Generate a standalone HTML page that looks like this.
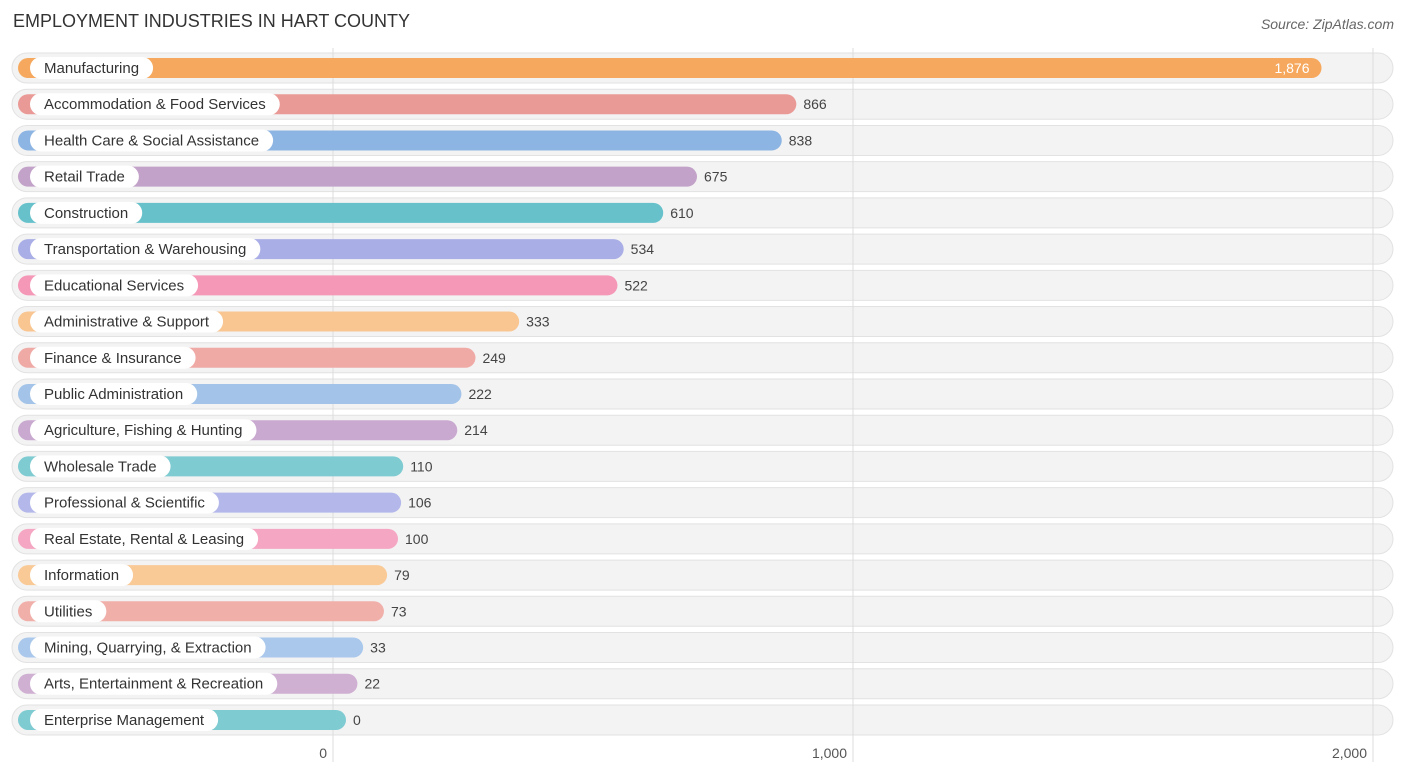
<!DOCTYPE html>
<html><head><meta charset="utf-8"><style>
body{margin:0;background:#fff;width:1406px;height:776px;overflow:hidden;font-family:"Liberation Sans",sans-serif;}
#title{position:absolute;left:13px;top:11px;font-size:18px;color:#333;}
#src{position:absolute;right:12px;top:16px;font-size:14px;color:#666;font-style:italic;}
svg{position:absolute;left:0;top:0;}
</style></head><body>
<div id="title">EMPLOYMENT INDUSTRIES IN HART COUNTY</div>
<div id="src">Source: ZipAtlas.com</div>
<svg id="chart" width="1406" height="776"></svg>
<script>
const categories=["Manufacturing","Accommodation & Food Services","Health Care & Social Assistance","Retail Trade","Construction","Transportation & Warehousing","Educational Services","Administrative & Support","Finance & Insurance","Public Administration","Agriculture, Fishing & Hunting","Wholesale Trade","Professional & Scientific","Real Estate, Rental & Leasing","Information","Utilities","Mining, Quarrying, & Extraction","Arts, Entertainment & Recreation","Enterprise Management"];
const values=[1876,866,838,675,610,534,522,333,249,222,214,110,106,100,79,73,33,22,0];
const tickValues=[0,1000,2000];
const tickLabels=["0","1,000","2,000"];
const colors=["#f6a95e","#ea9a96","#8db5e3","#c3a2c9","#66c1cb","#a9aee6","#f597b6","#f9c590","#f0aaa6","#a3c4e8","#c9a9d0","#7fcbd2","#b3b7ea","#f5a6c2","#f9c996","#f1afaa","#a9c8ec","#cfb0d3","#7fcbd2"];
const NS="http://www.w3.org/2000/svg";
const svg=document.getElementById('chart');
function x(v){return 333+v*0.52;}
function barEnd(v){return 346+v*0.52;}
function y(i){return 68+i*36.22;}
function mk(t,a,p){const e=document.createElementNS(NS,t);for(const k in a)e.setAttribute(k,a[k]);(p||svg).appendChild(e);return e;}
// row backgrounds
categories.forEach((c,i)=>{
  const r=mk('rect',{x:12,y:y(i)-15,width:1381,height:30,rx:15,fill:'#f3f3f3',stroke:'#e2e2e2'});
  
  
});
// gridlines & ticks
tickValues.forEach((t,i)=>{
  const l=mk('line',{x1:x(t),x2:x(t),y1:48,y2:762,stroke:'#dcdcdc','stroke-width':1});
  
  
  const tx=mk('text',{x:x(t)-6,y:758,'text-anchor':'end','font-size':14,fill:'#555'});
  tx.textContent=tickLabels[i];
  
  
});
categories.forEach((c,i)=>{
  const cy=y(i);
  const b=mk('rect',{x:18,y:cy-10,width:barEnd(values[i])-18,height:20,rx:10,fill:colors[i]});
  
  
  const lt=mk('text',{x:44,y:cy+5,'font-size':15,fill:'#333'});
  lt.textContent=c;
  const w=lt.getComputedTextLength();
  const pill=mk('rect',{x:30,y:cy-11,width:w+28,height:22,rx:11,fill:'#fff'});
  svg.insertBefore(pill,lt);
  
  
  
  
  const inside=i===0;
  const vt=mk('text',{x:inside?barEnd(values[i])-12:barEnd(values[i])+7,y:cy+5,'font-size':14,fill:inside?'#fff':'#444','text-anchor':inside?'end':'start'});
  vt.textContent=values[i].toLocaleString('en-US');
  
  
});
</script>
</body></html>
